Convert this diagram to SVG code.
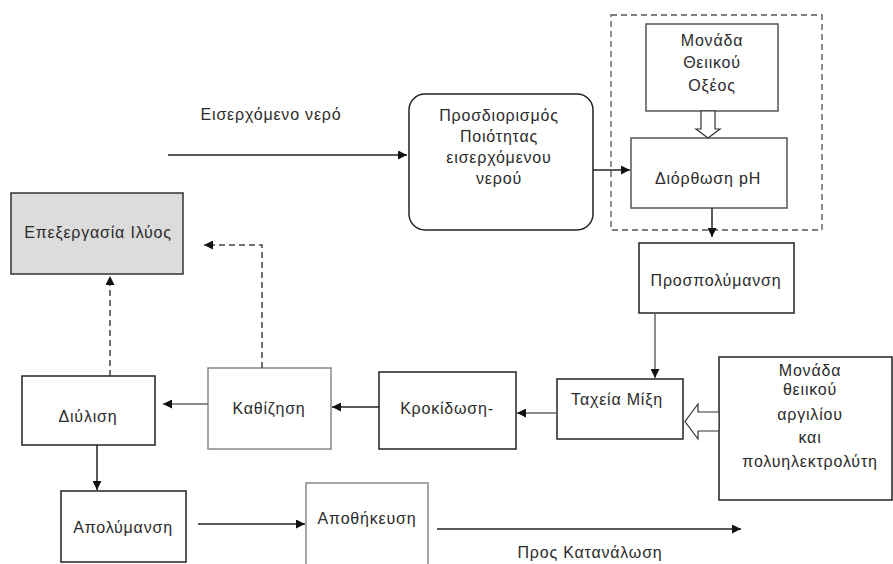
<svg xmlns="http://www.w3.org/2000/svg" width="893" height="564" viewBox="0 0 893 564">
<style>
text{font-family:"Liberation Sans",Arial,sans-serif;font-size:16px;fill:#2b2b2b;text-anchor:middle;letter-spacing:0.8px}
.box{fill:#fff;stroke:#222;stroke-width:1.5}
.gbox{fill:#fff;stroke:#888;stroke-width:1.5}
.con{fill:none;stroke:#222;stroke-width:1.5}
.lcon{fill:none;stroke:#666;stroke-width:1.5}
.dash{fill:none;stroke:#444;stroke-width:1.5;stroke-dasharray:6 4}
.hollow{fill:#fff;stroke:#333;stroke-width:1.2}
</style>
<defs>
<marker id="ah" viewBox="0 0 10 10" refX="10" refY="5" markerWidth="10" markerHeight="9" markerUnits="userSpaceOnUse" orient="auto">
<path d="M0,0 L10,5 L0,10 Z" fill="#111"/>
</marker>
</defs>
<rect width="893" height="564" fill="#fff"/>

<g id="label-in"><text x="271" y="120">Εισερχόμενο νερό</text></g>

<g id="n-quality">
<rect x="409" y="94" width="184" height="136" rx="16" class="box"/>
<text x="499" y="121">Προσδιορισμός</text>
<text x="499" y="142">Ποιότητας</text>
<text x="499" y="163">εισερχόμενου</text>
<text x="499" y="184">νερού</text>
</g>

<g id="group-ph"><rect x="611" y="15" width="211" height="215" fill="none" stroke="#555" stroke-width="1.3" stroke-dasharray="6 4"/></g>

<g id="n-acid">
<rect x="646" y="24" width="132" height="87" class="gbox" style="stroke:#555"/>
<text x="712" y="46">Μονάδα</text>
<text x="712" y="68">Θειικού</text>
<text x="712" y="91">Οξέος</text>
</g>

<g id="n-ph">
<rect x="631" y="138" width="156" height="70" class="gbox" style="stroke:#555"/>
<text x="708" y="184">Διόρθωση pH</text>
</g>

<g id="n-prepol">
<rect x="639" y="243" width="155" height="70" class="box"/>
<text x="716" y="286">Προσπολύμανση</text>
</g>

<g id="n-mix">
<rect x="557" y="379" width="126" height="60" class="box"/>
<text x="617" y="405">Ταχεία Μίξη</text>
</g>

<g id="n-coag">
<rect x="719" y="357" width="173" height="143" class="box"/>
<text x="810" y="376">Μονάδα</text>
<text x="810" y="395">θειικού</text>
<text x="810" y="420">αργιλίου</text>
<text x="810" y="443">και</text>
<text x="810" y="467">πολυηλεκτρολύτη</text>
</g>

<g id="n-floc">
<rect x="379" y="372" width="137" height="77" class="box"/>
<text x="447" y="414">Κροκίδωση-</text>
</g>

<g id="n-sed">
<rect x="208" y="368" width="123" height="81" class="gbox"/>
<text x="269" y="414">Καθίζηση</text>
</g>

<g id="n-filt">
<rect x="22" y="376" width="133" height="69" class="box"/>
<text x="88" y="422">Διύλιση</text>
</g>

<g id="n-sludge">
<rect x="11" y="193" width="172" height="81" fill="#dcdcdc" stroke="#333" stroke-width="1.5"/>
<text x="98" y="238">Επεξεργασία Ιλύος</text>
</g>

<g id="n-disinf">
<rect x="61" y="491" width="125" height="71" class="box"/>
<text x="123" y="533">Απολύμανση</text>
</g>

<g id="n-storage">
<rect x="306" y="483" width="122" height="90" class="gbox"/>
<text x="367" y="524">Αποθήκευση</text>
</g>

<g id="label-out"><text x="590" y="558">Προς Κατανάλωση</text></g>

<g id="connectors">
<path d="M168,155 H407" class="con" marker-end="url(#ah)"/>
<path d="M593,170 H630" class="con" marker-end="url(#ah)"/>
<polygon points="701,111 715,111 715,129 720,129 708,138 696,129 701,129" class="hollow"/>
<path d="M712,208 V237" class="con" marker-end="url(#ah)"/>
<path d="M655,313 V378" class="lcon" marker-end="url(#ah)"/>
<polygon points="719,412 698,412 698,404 685,421.5 698,439 698,431 719,431" class="hollow"/>
<path d="M557,413 H517" class="lcon" marker-end="url(#ah)"/>
<path d="M379,407 H332" class="con" marker-end="url(#ah)"/>
<path d="M208,404 H163" class="lcon" marker-end="url(#ah)"/>
<path d="M110,376 V276" class="dash" marker-end="url(#ah)"/>
<path d="M262,368 V245 H204" class="dash" marker-end="url(#ah)"/>
<path d="M97,445 V490" class="con" marker-end="url(#ah)"/>
<path d="M198,524 H305" class="con" marker-end="url(#ah)"/>
<path d="M437,529 H741" class="con" marker-end="url(#ah)"/>
</g>
</svg>
